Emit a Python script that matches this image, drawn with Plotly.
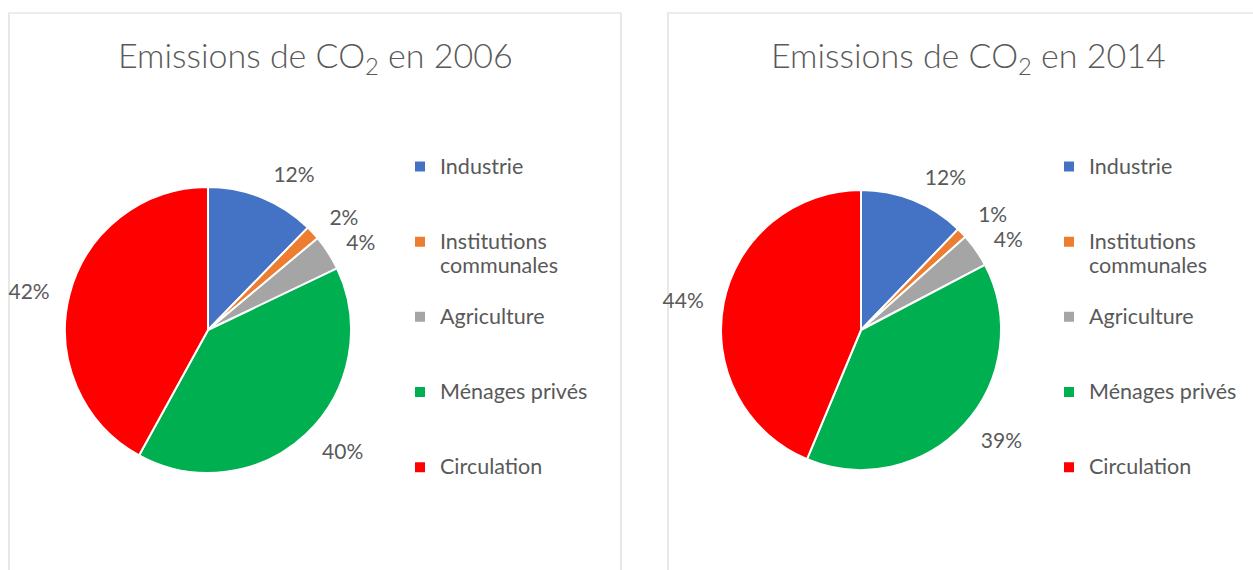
import plotly.graph_objects as go

categories = ["Industrie", "Institutions<br>communales", "Agriculture", "Ménages privés", "Circulation"]
values_2006 = [12.3, 1.6, 4.0, 40.1, 42.0]
values_2014 = [12.2, 1.2, 3.9, 39.0, 43.7]
colors = ["#4472C4", "#ED7D31", "#A5A5A5", "#00B050", "#FF0000"]
titles = ["Emissions de CO<sub>2</sub> en 2006", "Emissions de CO<sub>2</sub> en 2014"]

W, H = 1253, 570
TXT = "#595959"
FONT = "Lato"
LEG_LINE = 18.5   # legend font size that drives entry spacing
LEG_TXT = 21.5    # visible legend text size
PCT = 21


# legend labels: larger visible text, padded to 3 lines so entries are spaced like the original.
# pad string differs per chart so each chart keeps its own legend.
def legend_labels(cats, pad):
    out = []
    for c in cats:
        n = c.count("<br>") + 1
        lines = [f'<span style="font-size:{LEG_TXT}px">{p}</span>' for p in c.split("<br>")]
        out.append("<br>".join(lines) + ("<br>" + pad) * (3 - n))
    return out


labels_2006 = legend_labels(categories, "\u00a0")
labels_2014 = legend_labels(categories, "\u00a0\u00a0")


def px(x0, x1):
    return [x0 / W, x1 / W]


def py(top, bottom):
    return [(H - bottom) / H, (H - top) / H]


def pie_pair(labels, values, cx, cy, r, legend):
    visible = go.Pie(
        labels=labels, values=values, sort=False, direction="clockwise", rotation=0,
        marker=dict(colors=colors, line=dict(color="white", width=2)),
        textinfo="none",
        domain=dict(x=px(cx - r, cx + r), y=py(cy - r, cy + r)),
        legend=legend, hoverinfo="percent",
    )
    rl = r + 14  # label ring slightly outside the pie, as in the original
    label_ring = go.Pie(
        labels=labels, values=values, sort=False, direction="clockwise", rotation=0,
        marker=dict(colors=["rgba(0,0,0,0)"] * len(values), line=dict(width=0)),
        textposition="outside", texttemplate="%{percent:.0%}",
        textfont=dict(family=FONT, size=PCT, color=TXT),
        domain=dict(x=px(cx - rl, cx + rl), y=py(cy - rl, cy + rl)),
        showlegend=False, hoverinfo="skip",
    )
    return [visible, label_ring]


fig = go.Figure()
for t in pie_pair(labels_2006, values_2006, 208, 330, 143, "legend"):
    fig.add_trace(t)
for t in pie_pair(labels_2014, values_2014, 861, 330, 140, "legend2"):
    fig.add_trace(t)

leg = dict(font=dict(family=FONT, size=LEG_LINE, color=TXT), valign="top",
           xanchor="left", yanchor="top", bgcolor="rgba(0,0,0,0)", itemclick=False)

title_font = dict(family=FONT, size=34, color=TXT, weight=300)

fig.update_layout(
    width=W, height=H, margin=dict(l=0, r=0, t=0, b=0),
    paper_bgcolor="white", plot_bgcolor="white",
    showlegend=True,
    legend=dict(x=400 / W, y=(H - 148) / H, **leg),
    legend2=dict(x=1049 / W, y=(H - 148) / H, **leg),
    annotations=[
        dict(text=titles[0], x=315 / W, y=(H - 57) / H, xref="paper", yref="paper",
             xanchor="center", yanchor="middle", showarrow=False, font=title_font),
        dict(text=titles[1], x=968 / W, y=(H - 57) / H, xref="paper", yref="paper",
             xanchor="center", yanchor="middle", showarrow=False, font=title_font),
    ],
    shapes=[
        dict(type="rect", xref="paper", yref="paper", x0=9 / W, x1=621 / W,
             y0=-0.05, y1=(H - 13) / H, line=dict(color="#D9D9D9", width=1.2), layer="below"),
        dict(type="rect", xref="paper", yref="paper", x0=668 / W, x1=1.05,
             y0=-0.05, y1=(H - 13) / H, line=dict(color="#D9D9D9", width=1.2), layer="below"),
    ],
)

post = (
    "document.body.style.margin='0';"
    "document.querySelectorAll('.textline').forEach(function(e){e.style.display='none';});"
)
fig.write_html("out.html", post_script=post, config={"displayModeBar": False})
